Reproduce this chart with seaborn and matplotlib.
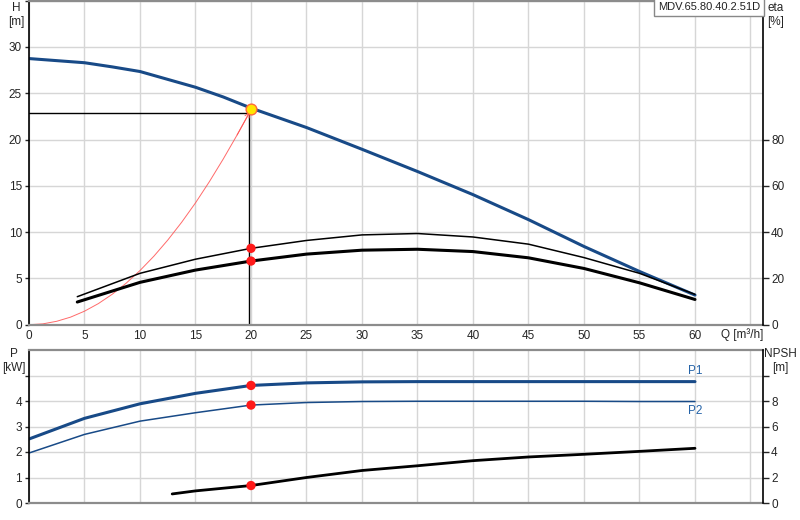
import numpy as np
import pandas as pd
import seaborn as sns
import matplotlib.pyplot as plt

# head curve H [m]
q_h = [0, 5, 7.5, 10, 12.5, 15, 17.5, 20, 25, 30, 35, 40, 45, 50, 55, 60]
h = [28.75, 28.3, 27.85, 27.35, 26.5, 25.65, 24.6, 23.4, 21.3, 18.95, 16.55, 14.05, 11.35, 8.45, 5.75, 3.2]

# efficiency curves eta [%]
q_eta = [4.35, 10, 15, 20, 25, 30, 35, 40, 45, 50, 55, 60]
eta_thin = [12.1, 22.2, 28.3, 33.0, 36.4, 38.8, 39.4, 37.9, 34.8, 29.0, 22.2, 13.1]
eta_thick = [9.8, 18.3, 23.6, 27.5, 30.5, 32.2, 32.6, 31.6, 28.9, 24.3, 18.1, 10.9]

# system curve (red)
q_sys = [0, 1.25, 2.5, 3.75, 5, 6.25, 7.5, 8.75, 10, 11.25, 12.5, 13.75, 15, 16.25, 17.5, 18.75, 19.9]
h_sys = [0, 0.09, 0.37, 0.82, 1.46, 2.28, 3.29, 4.48, 5.85, 7.4, 9.14, 11.06, 13.16, 15.45, 17.9, 20.5, 23.0]

# duty point
q_op = 19.85
h_op = 22.9
q_dot = 20.0
h_dot = 23.35
eta_dots = [33.0, 27.5]

# power P [kW]
q_p = [0, 5, 10, 15, 20, 25, 30, 35, 40, 45, 50, 55, 60]
p1 = [2.51, 3.32, 3.89, 4.3, 4.61, 4.71, 4.75, 4.76, 4.76, 4.76, 4.76, 4.76, 4.76]
p2 = [1.96, 2.69, 3.21, 3.54, 3.84, 3.94, 3.98, 3.99, 3.99, 3.99, 3.99, 3.98, 3.98]
p_dots = [4.61, 3.84]

# NPSH [m]
q_npsh = [12.9, 15, 20, 25, 30, 35, 40, 45, 50, 55, 60]
npsh = [0.71, 0.95, 1.37, 2.0, 2.55, 2.92, 3.32, 3.61, 3.82, 4.05, 4.29]
npsh_dot = 1.37

x_ticks = list(range(0, 66, 5))
x_labels = [str(v) if v <= 60 else '' for v in x_ticks]

sns.set_style('white')
plt.rcParams['font.family'] = ['Liberation Sans', 'DejaVu Sans']
plt.rcParams['font.size'] = 8.5

blue = '#184a87'
grid_c = '#d6d6d6'
spine_gray = '#8c8c8c'
red = '#ff1a1a'
fs = 8.5

H_MAX = 35
ETA_MAX = 140

fig = plt.figure(figsize=(8, 5.2), dpi=100)
ax = fig.add_axes([29/800, 1-324.7/520, (762.7-29)/800, 324/520])
axb = fig.add_axes([29/800, 1-503/520, (762.7-29)/800, 153/520])


def style_axes(a):
    a.set_xlim(0, 66.1)
    a.set_xticks(x_ticks)
    a.grid(True, color=grid_c, lw=1)
    a.set_axisbelow(True)
    a.spines['left'].set_color('black')
    a.spines['left'].set_linewidth(1.2)
    for s in ['top', 'bottom']:
        a.spines[s].set_color(spine_gray)
        a.spines[s].set_linewidth(1.6)
    a.spines['right'].set_visible(False)
    a.tick_params(axis='x', length=0, pad=4, labelsize=fs)
    a.tick_params(axis='y', length=3, width=1, pad=2, labelsize=fs, direction='out', left=True)


def style_twin(t):
    t.spines['right'].set_color('black')
    t.spines['right'].set_linewidth(1.2)
    for s in ['top', 'bottom', 'left']:
        t.spines[s].set_visible(False)
    t.tick_params(axis='y', length=4, width=1, pad=2, labelsize=fs, direction='out')


# ---- top panel: H and eta
style_axes(ax)
ax.set_ylim(0, H_MAX)
ax.set_yticks(range(0, 36, 5))
ax.set_yticklabels(['0', '5', '10', '15', '20', '25', '30', ''])
ax.set_xticklabels(x_labels)

sns.lineplot(x=q_sys, y=h_sys, ax=ax, color='#ff5050', lw=0.7, alpha=0.85)
ax.annotate('', xy=(q_sys[-1], h_sys[-1]), xytext=(q_sys[-2], h_sys[-2]),
            arrowprops=dict(arrowstyle='->', color='#ff5050', lw=0.7, alpha=0.85, shrinkA=0, shrinkB=0))
sns.lineplot(x=[0, q_op], y=[h_op, h_op], ax=ax, color='black', lw=1, estimator=None)
sns.lineplot(x=[q_op, q_op], y=[0, h_op], ax=ax, color='black', lw=1, estimator=None, sort=False)
sns.lineplot(x=q_h, y=h, ax=ax, color=blue, lw=2.2)
ax.set_xlabel('')
ax.set_ylabel('')

eta = ax.twinx()
style_twin(eta)
eta.set_ylim(0, ETA_MAX)
eta.set_yticks(range(0, 81, 20))
sns.lineplot(x=q_eta, y=eta_thin, ax=eta, color='black', lw=1.1)
sns.lineplot(x=q_eta, y=eta_thick, ax=eta, color='black', lw=2.2)
sns.scatterplot(x=[q_dot, q_dot], y=eta_dots, ax=eta, color=red, s=45, edgecolor='none', zorder=5)
# duty point on the H curve, placed through the eta axis so it sits on top
sns.scatterplot(x=[q_dot], y=[h_dot * ETA_MAX / H_MAX], ax=eta, s=60, color='#ffe600',
                edgecolor='#ff6a3a', linewidth=1, zorder=6, clip_on=False)
eta.set_ylabel('')

eta.text(0.997, 0.997, 'MDV.65.80.40.2.51D', transform=eta.transAxes, ha='right', va='top',
         fontsize=8, color='#222222', zorder=10,
         bbox=dict(boxstyle='square,pad=0.35', fc='white', ec='#888888', lw=1))

# ---- bottom panel: P and NPSH
style_axes(axb)
axb.set_ylim(0, 6)
axb.set_yticks(range(0, 6))
axb.set_yticklabels(['0', '1', '2', '3', '4', ''])
axb.set_xticklabels([])
sns.lineplot(x=q_p, y=p1, ax=axb, color=blue, lw=2.2)
sns.lineplot(x=q_p, y=p2, ax=axb, color=blue, lw=1.1)
sns.scatterplot(x=[q_dot, q_dot], y=p_dots, ax=axb, color=red, s=45, edgecolor='none', zorder=5)
axb.text(q_p[-1], p1[-1] + 0.18, 'P1', color='#2563a8', fontsize=fs, ha='center', va='bottom')
axb.text(q_p[-1], p2[-1] - 0.15, 'P2', color='#2563a8', fontsize=fs, ha='center', va='top')
axb.set_xlabel('')
axb.set_ylabel('')

npsh_ax = axb.twinx()
style_twin(npsh_ax)
npsh_ax.set_ylim(0, 12)
npsh_ax.set_yticks(range(0, 11, 2))
npsh_ax.set_yticklabels(['0', '2', '4', '6', '8', ''])
sns.lineplot(x=q_npsh, y=npsh, ax=npsh_ax, color='black', lw=2)
sns.scatterplot(x=[q_dot], y=[npsh_dot], ax=npsh_ax, color=red, s=45, edgecolor='none', zorder=5)
npsh_ax.set_ylabel('')

# axis titles
fig.text(16/800, 1-2/520, 'H\n[m]', ha='center', va='top', fontsize=fs, linespacing=1.2)
fig.text(767/800, 1-2/520, 'eta\n[%]', ha='left', va='top', fontsize=fs, linespacing=1.2)
fig.text(721/800, 1-335/520, 'Q [m³/h]', ha='left', va='center', fontsize=fs)
fig.text(14/800, 1-348/520, 'P\n[kW]', ha='center', va='top', fontsize=fs, linespacing=1.2)
fig.text(780/800, 1-348/520, 'NPSH\n[m]', ha='center', va='top', fontsize=fs, linespacing=1.2)

fig.savefig('out.png', dpi=100)
